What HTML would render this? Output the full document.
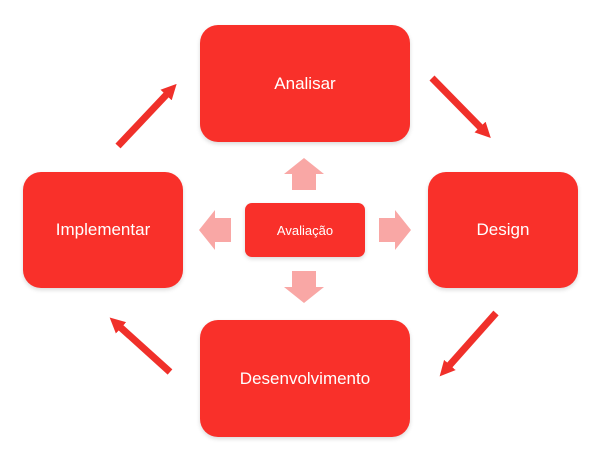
<!DOCTYPE html><html><head><style>body{margin:0;width:600px;height:462px;background:#fff;overflow:hidden;position:relative;font-family:"Liberation Sans",sans-serif}
.b{position:absolute;background:#f9302a;border-radius:18px;color:#fff;display:flex;align-items:center;justify-content:center;font-size:17px;box-shadow:0 2px 4px rgba(0,0,0,.15)}</style></head><body>
<div class="b" style="left:200px;top:25px;width:210px;height:117px">Analisar</div>
<div class="b" style="left:428px;top:172px;width:150px;height:116px">Design</div>
<div class="b" style="left:23px;top:172px;width:160px;height:116px">Implementar</div>
<div class="b" style="left:200px;top:320px;width:210px;height:117px">Desenvolvimento</div>
<div class="b" style="left:245px;top:203px;width:120px;height:54px;border-radius:7px;font-size:13px">Avaliação</div>
<svg width="600" height="462" style="position:absolute;left:0;top:0">
<defs><marker id="h" markerWidth="2.2" markerHeight="2.2" refX="0.4" refY="1.1" orient="auto" viewBox="0 0 2.2 2.2"><path d="M0,0L2.2,1.1L0,2.2z" fill="#f0302a"/></marker></defs>
<g stroke="#f0302a" stroke-width="7" marker-end="url(#h)">
<line x1="118" y1="146" x2="168" y2="93"/>
<line x1="432" y1="78" x2="482" y2="129"/>
<line x1="496" y1="313" x2="448" y2="367"/>
<line x1="170" y1="372" x2="119" y2="326"/>
</g>
<g fill="#f9a7a5">
<path d="M304,158L324,174L316,174L316,190L292,190L292,174L284,174z"/>
<path d="M304,303L324,287L316,287L316,271L292,271L292,287L284,287z"/>
<path d="M199,230L215,210L215,218L231,218L231,242L215,242L215,250z"/>
<path d="M411,230L395,210L395,218L379,218L379,242L395,242L395,250z"/>
</g></svg>
</body></html>
